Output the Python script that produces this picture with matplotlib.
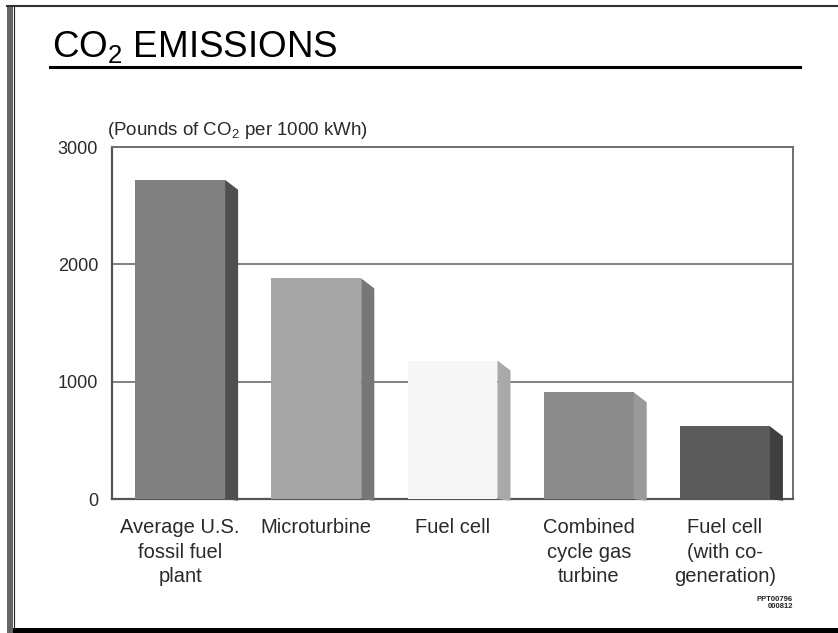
"""CO2 emissions slide chart (pseudo-3D bars)."""
import numpy as np
import matplotlib
matplotlib.use("Agg")
import matplotlib.pyplot as plt
from matplotlib.lines import Line2D
from matplotlib.patches import Rectangle

# ── Data ──────────────────────────────────────────────────────────
categories = [
    "Average U.S.\nfossil fuel\nplant",
    "Microturbine",
    "Fuel cell",
    "Combined\ncycle gas\nturbine",
    "Fuel cell\n(with co-\ngeneration)",
]
emissions = [2720, 1880, 1180, 910, 620]
y_ticks = [0, 1000, 2000, 3000]

# ── Style ─────────────────────────────────────────────────────────
front_colors = ["#808080", "#a5a5a5", "#f6f6f6", "#8c8c8c", "#5b5b5b"]
side_colors = ["#4f4f4f", "#777777", "#a9a9a9", "#9a9a9a", "#3f3f3f"]
TXT = "#2a2a2a"

plt.rcParams.update({
    "font.family": ["Liberation Sans", "DejaVu Sans"],
    "mathtext.fontset": "custom",
    "mathtext.rm": "Liberation Sans",
    "mathtext.default": "regular",
})

W, H = 838, 633
fig = plt.figure(figsize=(W / 100, H / 100), dpi=100)


def fx(px):
    return px / W


def fy(py):
    return 1 - py / H


# slide frame
fig.add_artist(Rectangle((fx(7), 0), fx(6), fy(5), transform=fig.transFigure,
                         facecolor="#666666", edgecolor="none"))
fig.add_artist(Line2D([fx(13.5), fx(13.5)], [fy(628), fy(6)], transform=fig.transFigure,
                      color="#222222", lw=0.8))
fig.add_artist(Line2D([fx(7), 1], [fy(5.5), fy(5.5)], transform=fig.transFigure,
                      color="#333333", lw=1.5))
fig.add_artist(Rectangle((fx(13), 0), 1, 5 / H, transform=fig.transFigure,
                         facecolor="black", edgecolor="none"))

# title + underline
fig.text(fx(52), fy(57), "CO$_2$ EMISSIONS", fontsize=26.5, color="black",
         ha="left", va="baseline")
fig.add_artist(Line2D([fx(50), fx(800)], [fy(67), fy(67)], transform=fig.transFigure,
                      color="black", lw=2.2))

# ── Axes ──────────────────────────────────────────────────────────
ax = fig.add_axes([fx(112), 1 - 499 / H, 681 / W, 352 / H])
x = np.arange(len(categories))
bar_w = 0.66
side_w = 0.096
drop = 85

ax.bar(x, emissions, width=bar_w, color=front_colors, edgecolor="none", zorder=3)
for xi, v, sc in zip(x, emissions, side_colors):
    x0 = xi + bar_w / 2
    x1 = x0 + side_w
    ax.fill([x0, x0, x1, x1], [0, v, v - drop, -15], color=sc, lw=0,
            zorder=3, clip_on=False)

ax.set_xlim(-0.5, len(categories) - 0.5)
ax.set_ylim(0, 3000)
ax.set_yticks(y_ticks)
ax.set_yticklabels([str(t) for t in y_ticks], fontsize=13, color=TXT)
ax.set_xticks(x)
ax.set_xticklabels(categories, fontsize=14.5, color=TXT, linespacing=1.34,
                   ha="center", va="top", multialignment="center")
ax.tick_params(axis="y", length=0, pad=10)
ax.tick_params(axis="x", length=0, pad=14)

for yv in y_ticks[1:-1]:
    ax.axhline(yv, color="#777777", lw=1.3, zorder=1)

for side in ("left", "bottom"):
    ax.spines[side].set_color("#555555")
    ax.spines[side].set_linewidth(1.6)
for side in ("top", "right"):
    ax.spines[side].set_color("#6e6e6e")
    ax.spines[side].set_linewidth(1.4)

fig.text(fx(107), fy(135), "(Pounds of CO$_2$ per 1000 kWh)", fontsize=13.5,
         color=TXT, ha="left", va="baseline")

fig.text(fx(793), fy(603), "PPT00796\n000812", fontsize=5.5, color="#222222",
         ha="right", va="center", multialignment="right", fontweight="bold",
         linespacing=1.1)

fig.savefig("out.png", dpi=100)
